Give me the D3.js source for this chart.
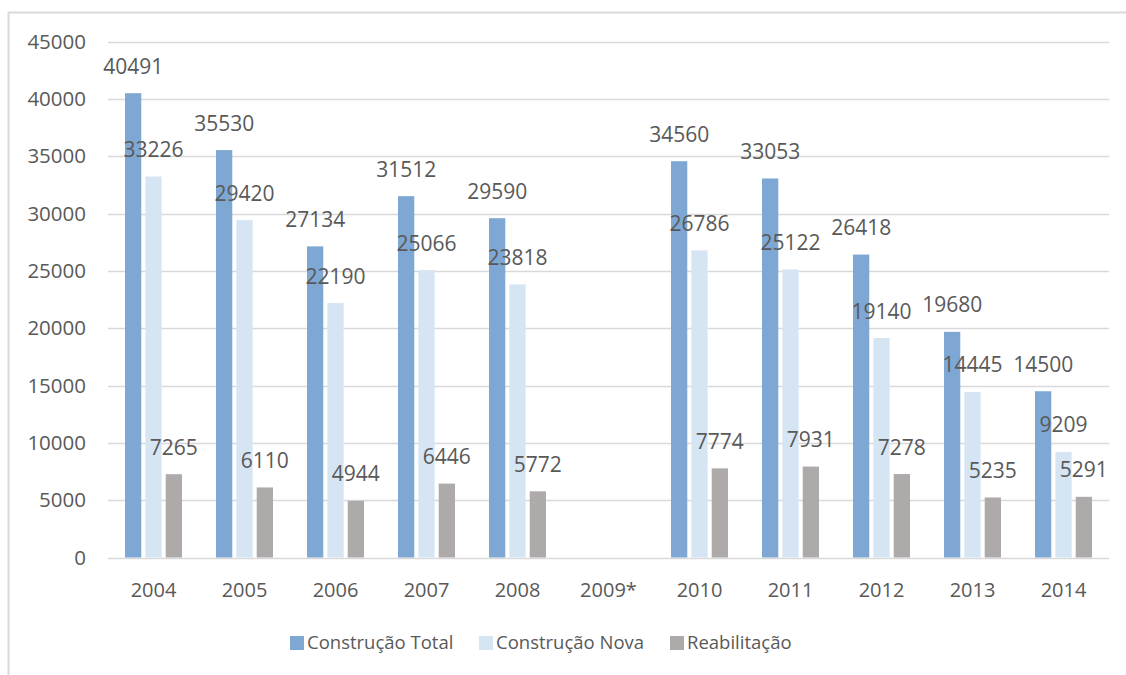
<!DOCTYPE html>
<html>
<head>
<meta charset="utf-8">
<script src="https://cdn.jsdelivr.net/npm/d3@7"></script>
<style>
  body { margin: 0; background: #fff; }
  text { font-family: "Open Sans", sans-serif; fill: #595959; }
</style>
</head>
<body>
<svg width="1126" height="675"></svg>
<script>
var years = ["2004", "2005", "2006", "2007", "2008", "2009*", "2010", "2011", "2012", "2013", "2014"];
var seriesNames = ["Construção Total", "Construção Nova", "Reabilitação"];
var total = [40491, 35530, 27134, 31512, 29590, null, 34560, 33053, 26418, 19680, 14500];
var nova = [33226, 29420, 22190, 25066, 23818, null, 26786, 25122, 19140, 14445, 9209];
var reab = [7265, 6110, 4944, 6446, 5772, null, 7774, 7931, 7278, 5235, 5291];
var yTicks = [0, 5000, 10000, 15000, 20000, 25000, 30000, 35000, 40000, 45000];

var colors = ["#7ea8d3", "#d6e5f4", "#aeaaaa"];
var allSeries = [total, nova, reab];

var svg = d3.select("svg");

// outer frame (cut off at right/bottom like the original)
svg.append("rect")
    .attr("x", 8.5).attr("y", 12.5)
    .attr("width", 1130).attr("height", 680)
    .attr("fill", "none")
    .attr("stroke", "#d9d9d9")
    .attr("stroke-width", 2);

var x0 = d3.scaleBand().domain(years).range([108, 1109]).padding(0);
var x1 = d3.scaleBand().domain(seriesNames).range([0, 57]).paddingInner(0.2);
var y = d3.scaleLinear().domain([0, 45000]).range([557.5, 41.5]);

// gridlines
svg.append("g")
    .selectAll("line")
    .data(yTicks)
    .enter().append("line")
    .attr("x1", 108).attr("x2", 1109)
    .attr("y1", function(d) { return Math.round(y(d)) + 0.5; })
    .attr("y2", function(d) { return Math.round(y(d)) + 0.5; })
    .attr("stroke", "#d9d9d9")
    .attr("stroke-width", 1.5);

// y labels
svg.append("g")
    .selectAll("text")
    .data(yTicks)
    .enter().append("text")
    .attr("x", 86)
    .attr("y", function(d) { return y(d); })
    .attr("dy", "0.35em")
    .attr("text-anchor", "end")
    .attr("font-size", 20.5)
    .text(function(d) { return d; });

// x labels
svg.append("g")
    .selectAll("text")
    .data(years)
    .enter().append("text")
    .attr("x", function(d) { return x0(d) + x0.bandwidth() / 2; })
    .attr("y", 590)
    .attr("dy", "0.35em")
    .attr("text-anchor", "middle")
    .attr("font-size", 20)
    .text(function(d) { return d; });

var offset = (x0.bandwidth() - 57) / 2;

var groups = svg.append("g").selectAll("g")
    .data(years)
    .enter().append("g")
    .attr("transform", function(d) { return "translate(" + (x0(d) + offset) + ",0)"; });

var cells = function(d, i) {
    return seriesNames.map(function(s, k) {
        return { name: s, value: allSeries[k][i], k: k };
    }).filter(function(c) { return c.value != null; });
};

groups.selectAll("rect")
    .data(cells)
    .enter().append("rect")
    .attr("x", function(d) { return x1(d.name); })
    .attr("y", function(d) { return y(d.value); })
    .attr("width", x1.bandwidth())
    .attr("height", function(d) { return y(0) - y(d.value); })
    .attr("fill", function(d) { return colors[d.k]; });

groups.selectAll("text")
    .data(cells)
    .enter().append("text")
    .attr("x", function(d) { return x1(d.name) + x1.bandwidth() / 2; })
    .attr("y", function(d) { return y(d.value) - 19.5; })
    .attr("text-anchor", "middle")
    .attr("font-size", 21)
    .text(function(d) { return d.value; });

// legend
var legendX = [290, 479, 670];
var legend = svg.append("g").selectAll("g")
    .data(seriesNames)
    .enter().append("g")
    .attr("transform", function(d, i) { return "translate(" + legendX[i] + ",643)"; });
legend.append("rect")
    .attr("x", 0).attr("y", -7)
    .attr("width", 14).attr("height", 14)
    .attr("fill", function(d, i) { return colors[i]; });
legend.append("text")
    .attr("x", 17)
    .attr("dy", "0.35em")
    .attr("font-size", 18.5)
    .text(function(d) { return d; });
</script>
</body>
</html>
